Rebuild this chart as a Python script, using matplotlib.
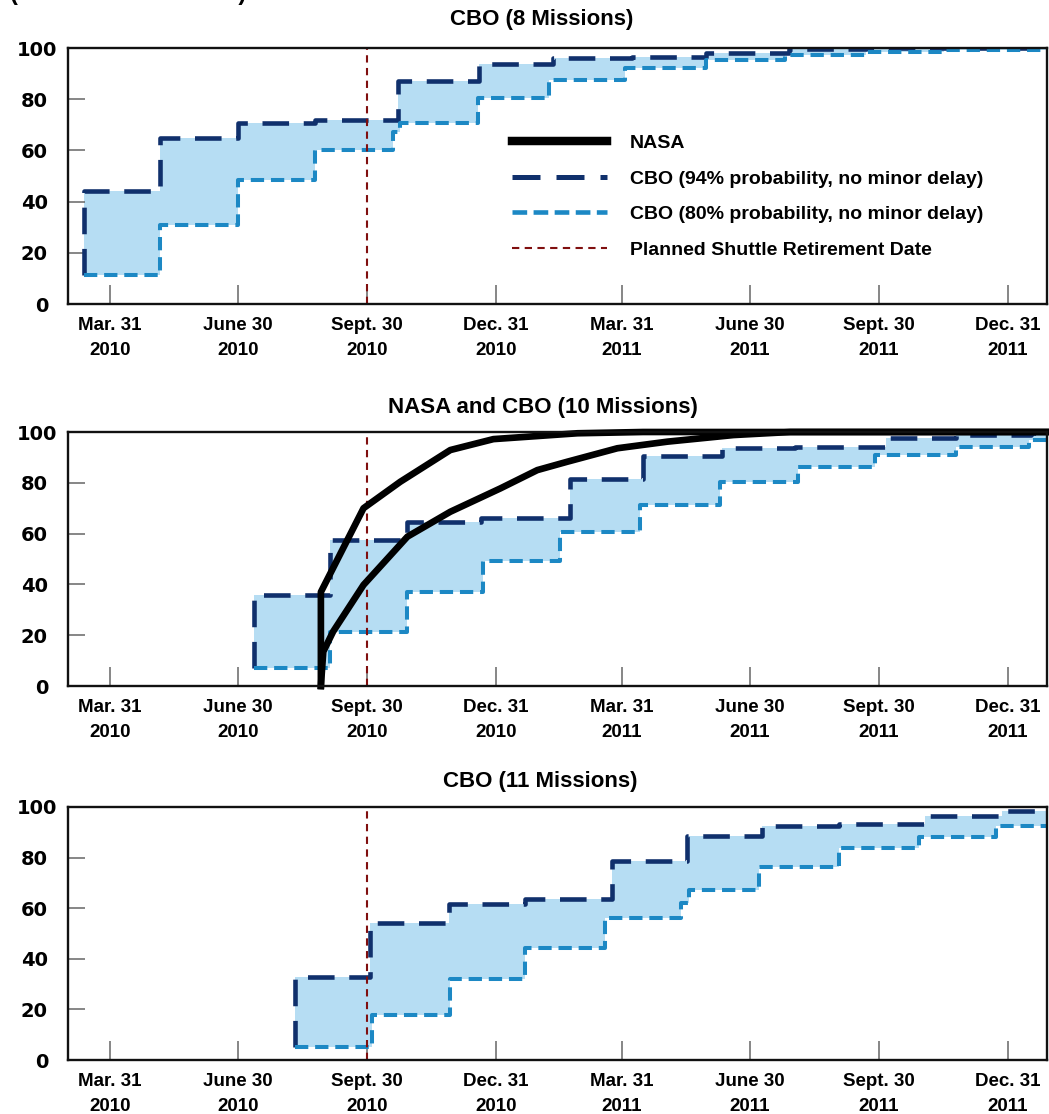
import numpy as np
import matplotlib
matplotlib.use('Agg')
import matplotlib.pyplot as plt
from matplotlib.lines import Line2D
from matplotlib.transforms import ScaledTranslation

plt.rcParams['font.family'] = ['Liberation Sans', 'DejaVu Sans']
plt.rcParams['font.weight'] = 'bold'

# ---------------- data ----------------
BASE_DATE = '2010-03-31'          # x values are days after this date
tick_dates = ['2010-03-31', '2010-06-30', '2010-09-30', '2010-12-31',
              '2011-03-31', '2011-06-30', '2011-09-30', '2011-12-31']
tick_labels = ['Mar. 31\n2010', 'June 30\n2010', 'Sept. 30\n2010', 'Dec. 31\n2010',
               'Mar. 31\n2011', 'June 30\n2011', 'Sept. 30\n2011', 'Dec. 31\n2011']
xlim_dates = ['2010-03-01', '2012-01-28']
retirement_date = '2010-09-30'
y_ticks = [0, 20, 40, 60, 80, 100]

heading = '(Cumulative Percent)'
titles = ['CBO (8 Missions)', 'NASA and CBO (10 Missions)', 'CBO (11 Missions)']
legend_labels = ['NASA', 'CBO (94% probability, no minor delay)',
                 'CBO (80% probability, no minor delay)', 'Planned Shuttle Retirement Date']

# 8 missions
p8_hi_days = [-18.5, 35.7, 91.3, 146.1, 205.0, 263.3, 316.1, 372.4, 425.2, 483.7, 538.7]
p8_hi_vals = [44.0, 65.0, 70.7, 72.0, 87.0, 93.8, 96.0, 96.6, 98.2, 99.5, 100.0]
p8_lo_days = [-18.5, 35.7, 91.3, 146.3, 201.9, 206.9, 262.6, 313.2, 367.4, 425.2, 480.9, 538.7, 594.3]
p8_lo_vals = [11.5, 31.0, 48.5, 60.2, 67.3, 70.8, 80.3, 87.5, 92.0, 95.3, 97.3, 98.6, 99.2]

# 10 missions
p10_hi_days = [102.7, 157.0, 211.7, 264.7, 328.2, 380.3, 436.6, 488.0, 553.0, 602.9, 656.4]
p10_hi_vals = [35.8, 57.5, 64.6, 66.3, 81.5, 90.7, 93.8, 94.2, 97.8, 98.8, 99.5]
p10_lo_days = [102.7, 157.0, 211.7, 266.1, 321.1, 378.1, 435.2, 490.6, 545.5, 602.9, 655.5]
p10_lo_vals = [7.0, 21.2, 37.0, 49.4, 60.6, 71.2, 80.3, 86.4, 91.0, 94.0, 96.8]
nasa_hi_days = [150.3, 150.3, 180.7, 206.9, 242.6, 273.3, 333.2, 380.0, 668.5]
nasa_hi_vals = [0.0, 37.0, 70.0, 80.4, 92.9, 97.2, 99.5, 100.0, 100.0]
nasa_lo_days = [150.3, 152.0, 159.0, 180.7, 212.0, 242.6, 278.3, 304.6, 326.0, 361.7, 397.4, 444.5, 485.0, 668.5]
nasa_lo_vals = [0.0, 13.5, 21.4, 39.8, 58.8, 68.6, 77.8, 85.0, 88.3, 93.6, 96.2, 98.8, 100.0, 100.0]

# 11 missions
p11_hi_days = [131.7, 185.5, 241.6, 295.7, 358.2, 411.0, 464.5, 519.4, 580.8, 635.7]
p11_hi_vals = [32.7, 54.0, 61.6, 63.5, 78.7, 88.5, 92.5, 93.3, 96.4, 98.5]
p11_lo_days = [131.7, 186.6, 242.6, 295.7, 353.2, 406.7, 413.1, 463.0, 519.4, 576.5, 631.4]
p11_lo_vals = [5.3, 17.6, 32.0, 44.2, 56.0, 61.9, 67.2, 76.4, 83.7, 88.3, 92.5]

# ---------------- style ----------------
DARK = '#10306c'
LIGHT = '#1c88c4'
FILL = '#b6ddf3'
RED = '#800f0f'
GREY = '#666666'
DARK_LW, DARK_DASH = 3.3, (5.8, 3.2)
LIGHT_LW, LIGHT_DASH = 2.9, (3.3, 1.7)
RED_LW, RED_DASH = 1.5, (3.5, 2.6)
NASA_LW = 4.8

base = np.datetime64(BASE_DATE)
def to_days(dates):
    return (np.array(dates, dtype='datetime64[D]') - base).astype(float)

tick_x = to_days(tick_dates)
xlim = to_days(xlim_dates)
retire_x = to_days([retirement_date])[0]

W, H = 1049, 1114
fig = plt.figure(figsize=(W / 100, H / 100), dpi=100)

def px_rect(left, top, right, bottom):
    return [left / W, 1 - bottom / H, (right - left) / W, (bottom - top) / H]

rects = [px_rect(68, 48, 1047, 304), px_rect(68, 432, 1047, 686), px_rect(68, 807, 1047, 1060)]
title_pos = [(542, 19), (543, 407), (540, 782)]

def step_value(days, vals, x):
    idx = np.searchsorted(np.array(days), x, side='right') - 1
    return np.array(vals)[np.clip(idx, 0, len(vals) - 1)]

def draw_band(ax, hi_d, hi_v, lo_d, lo_v):
    xend = xlim[1]
    grid = np.unique(np.concatenate([hi_d, lo_d, [xend]]))
    ax.fill_between(grid, step_value(lo_d, lo_v, grid), step_value(hi_d, hi_v, grid),
                    step='post', color=FILL, lw=0, zorder=1)
    xh = [hi_d[0]] + list(hi_d) + [xend]
    yh = [lo_v[0]] + list(hi_v) + [hi_v[-1]]
    ax.plot(xh, yh, drawstyle='steps-post', color=DARK, lw=DARK_LW,
            dashes=DARK_DASH, dash_capstyle='butt', zorder=3)
    xl = list(lo_d) + [xend]
    yl = list(lo_v) + [lo_v[-1]]
    ax.plot(xl, yl, drawstyle='steps-post', color=LIGHT, lw=LIGHT_LW,
            dashes=LIGHT_DASH, dash_capstyle='butt', zorder=3)

panels = [(p8_hi_days, p8_hi_vals, p8_lo_days, p8_lo_vals),
          (p10_hi_days, p10_hi_vals, p10_lo_days, p10_lo_vals),
          (p11_hi_days, p11_hi_vals, p11_lo_days, p11_lo_vals)]

axes = []
for i, (rect, data) in enumerate(zip(rects, panels)):
    ax = fig.add_axes(rect)
    axes.append(ax)
    draw_band(ax, *data)
    ax.axvline(retire_x, color=RED, lw=RED_LW, dashes=RED_DASH, zorder=4)
    ax.set_xlim(*xlim)
    ax.set_ylim(0, 100)
    ax.set_xticks(tick_x)
    ax.set_xticklabels(tick_labels, fontsize=13.5, fontweight='bold', linespacing=1.65)
    ax.set_yticks(y_ticks)
    ax.set_yticklabels([str(v) for v in y_ticks], fontsize=14, fontweight='bold',
                       family=['DejaVu Sans'])
    ax.tick_params(axis='x', direction='in', length=14, width=1.1, color=GREY, pad=9)
    ax.tick_params(axis='y', direction='in', length=12, width=1.1, color=GREY, pad=14.4)
    # the "100" label sits a little further right in the original
    top_lab = ax.get_yticklabels()[-1]
    top_lab.set_transform(top_lab.get_transform() +
                          ScaledTranslation(9 / 100, 0, fig.dpi_scale_trans))
    for s in ax.spines.values():
        s.set_linewidth(1.7)
        s.set_color('#111111')
        s.set_zorder(6)
    tx, ty = title_pos[i]
    fig.text(tx / W, 1 - ty / H, titles[i], ha='center', va='center',
             fontsize=16, fontweight='bold')

# NASA curves on the middle panel
ax2 = axes[1]
ax2.plot(nasa_hi_days, nasa_hi_vals, color='black', lw=NASA_LW, solid_joinstyle='round',
         zorder=5, clip_on=False)
ax2.plot(nasa_lo_days, nasa_lo_vals, color='black', lw=NASA_LW, solid_joinstyle='round',
         zorder=5, clip_on=False)

# legend in top panel
handles = [Line2D([], [], color='black', lw=6.1),
           Line2D([], [], color=DARK, lw=3.6, dashes=(5.6, 3.2), dash_capstyle='butt'),
           Line2D([], [], color=LIGHT, lw=3.3, dashes=(3.2, 1.4), dash_capstyle='butt'),
           Line2D([], [], color=RED, lw=RED_LW, dashes=RED_DASH)]
axes[0].legend(handles, legend_labels, loc='upper left',
               bbox_to_anchor=((512 - 68) / 979, (304 - 134.5) / 256),
               frameon=False, handlelength=4.9, handletextpad=1.15,
               labelspacing=0.92, borderpad=0, borderaxespad=0,
               prop={'weight': 'bold', 'size': 14})

# heading cut off at the very top edge, as in the original
fig.text(10 / W, 1.0, heading, ha='left', va='baseline',
         fontsize=17, fontweight='bold')

fig.savefig('out.png', dpi=100)
